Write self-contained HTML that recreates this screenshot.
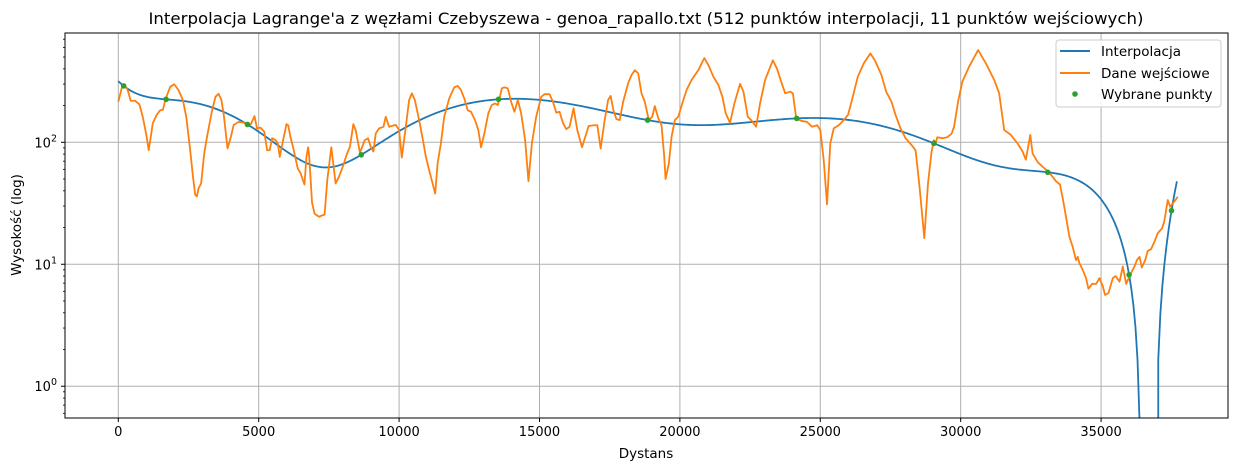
<!DOCTYPE html>
<html><head><meta charset="utf-8">
<style>
html,body{margin:0;padding:0;background:#fff;}
svg{display:block;font-family:"DejaVu Sans","Liberation Sans",sans-serif;}
</style></head>
<body>
<svg id="chart" width="1237" height="471" viewBox="0 0 1237 471" xmlns="http://www.w3.org/2000/svg">
<rect x="0" y="0" width="1237" height="471" fill="#fff"/>
<text x="646" y="24" font-size="16" text-anchor="middle" textLength="995" lengthAdjust="spacingAndGlyphs">Interpolacja Lagrange'a z węzłami Czebyszewa - genoa_rapallo.txt (512 punktów interpolacji, 11 punktów wejściowych)</text>
<text x="646" y="458" font-size="13.5" text-anchor="middle">Dystans</text>
<text x="0" y="0" font-size="13.5" text-anchor="middle" transform="translate(21,225) rotate(-90)">Wysokość (log)</text>
<g id="grid"></g>
<g id="series"></g>
<g id="axes"></g>
<g id="legend">
<rect x="1056" y="40" width="165" height="67" rx="3" fill="#fff" fill-opacity="0.85" stroke="#ccc"/>
<g><line x1="1060" y1="51" x2="1090" y2="51" stroke="#1f77b4" stroke-width="2"/><text x="1101" y="56" font-size="13.5">Interpolacja</text></g>
<g><line x1="1060" y1="73" x2="1090" y2="73" stroke="#ff7f0e" stroke-width="2"/><text x="1101" y="78" font-size="13.5">Dane wejściowe</text></g>
<g><circle cx="1075" cy="94" r="2.8" fill="#2ca02c"/><text x="1101" y="99" font-size="13.5">Wybrane punkty</text></g>
</g>
</svg>
<script>
const dataX = [0,120,215,335,440,600,750,870,990,1085,1230,1370,1490,1590,1680,1850,1990,2140,2300,2420,2560,2660,2740,2800,2860,2950,3060,3160,3330,3460,3570,3670,3750,3890,4010,4110,4290,4460,4570,4700,4850,4940,5060,5200,5300,5390,5480,5600,5680,5750,5870,5990,6050,6130,6250,6390,6490,6630,6700,6760,6800,6900,6990,7090,7160,7228,7346,7443,7586,7740,7857,8014,8132,8250,8371,8454,8607,8775,8893,8989,9086,9168,9286,9443,9525,9643,9882,10000,10096,10239,10357,10454,10561,10714,10836,10954,11071,11193,11286,11371,11489,11607,11786,11964,12086,12204,12321,12443,12561,12704,12821,12918,13036,13179,13300,13418,13514,13571,13657,13750,13871,13989,14107,14229,14346,14489,14607,14729,14882,15061,15179,15357,15479,15596,15714,15836,15954,16071,16214,16346,16514,16632,16750,16943,17061,17179,17321,17443,17536,17632,17739,17857,17979,18157,18275,18393,18514,18632,18750,18893,19014,19107,19229,19346,19443,19489,19607,19704,19821,19943,20086,20239,20418,20657,20871,21014,21193,21371,21514,21632,21786,21943,22143,22264,22418,22561,22714,22857,23036,23311,23454,23607,23750,23929,24025,24143,24321,24525,24704,24889,25000,25121,25239,25357,25479,25657,25836,25989,26157,26336,26550,26786,26964,27179,27346,27536,27679,27857,28036,28250,28393,28536,28704,28836,28964,29050,29107,29168,29346,29525,29679,29764,29918,30061,30300,30621,30893,31193,31371,31550,31786,32025,32204,32321,32479,32561,32739,32918,33157,33393,33536,33632,33750,33871,33989,34107,34168,34229,34346,34464,34550,34679,34821,34943,35061,35143,35264,35418,35514,35657,35775,35893,36036,36190,36275,36370,36450,36570,36664,36780,36900,37021,37171,37250,37375,37457,37525,37650,37730];
const dataY = [215,277,295,269,219,219,205,162,118,86,144,168,183,185,225,285,299,269,222,162,86,52,37,36,42,46,81,111,178,236,250,223,173,89,111,139,147,145,140,138,164,130,132,122,86,86,108,104,98,76,104,141,138,111,86,61,56,45,76,91,76,32,26,25,24.5,25,25.5,49,91,46,52,65,79,92,141,126,82,104,108,92,84,118,130,134,162,134,139,126,75,134,222,252,222,152,108,76,59,46,38,67,98,162,229,282,290,268,229,183,178,152,126,91,118,173,202,208,202,225,277,282,277,215,178,222,173,104,48,98,162,236,248,248,215,175,178,144,128,134,190,126,91,111,136,138,138,89,152,222,240,183,155,152,215,305,355,390,368,252,215,152,162,198,158,138,76,50,67,111,152,162,209,269,325,390,490,430,345,295,236,173,144,209,301,260,162,150,134,209,325,470,404,314,252,260,252,157,150,147,134,138,126,72,31,98,130,138,152,168,236,345,445,536,460,355,260,215,168,130,108,95,86,43,16.4,46,84,104,98,110,108,110,118,134,222,314,417,570,445,325,252,126,115,98,84,72,115,81,69,63,56.3,48,45,35,24.6,16.8,13.9,10.8,11.5,10.2,9.0,7.7,6.3,6.9,6.9,7.7,6.6,5.6,5.8,7.7,8,7.2,9.6,6.9,8.2,9.6,10.8,11.5,9.4,10.8,12.9,13.3,15.3,18,19.7,22.4,33.6,29.6,31,33.6,35.8];
const nodeX = [192,1702,4600,8654,13539,18850,24161,29046,33100,35998,37508];
const nodeY = [290,225,140,79,225,152,157,98,56.8,8.2,27.5];
const xTicks = [0,5000,10000,15000,20000,25000,30000,35000];
const xTickLabels = ["0","5000","10000","15000","20000","25000","30000","35000"];
const yMajor = [1,10,100];
const yMajorExp = ["0","1","2"];
const nInterp = 512;
const xStart = 0, xEnd = 37700;

const L=65,R=1228,T=33,B=418;
const xMin=-1898,xMax=39520;
const yLogMin=-0.2605,yLogMax=2.896;
const sx=v=>L+(v-xMin)/(xMax-xMin)*(R-L);
const sy=v=>B-(Math.log10(v)-yLogMin)/(yLogMax-yLogMin)*(B-T);
const NS="http://www.w3.org/2000/svg";
function mk(tag,attrs,parent){const e=document.createElementNS(NS,tag);for(const k in attrs)e.setAttribute(k,attrs[k]);parent.appendChild(e);return e;}
const grid=document.getElementById('grid'),series=document.getElementById('series'),axes=document.getElementById('axes');

xTicks.forEach((t,i)=>{
  const x=sx(t);
  const g=mk('line',{x1:x,y1:T,x2:x,y2:B,stroke:'#b0b0b0','stroke-width':1},grid);
  
  
  const tk=mk('line',{x1:x,y1:B,x2:x,y2:B+4,stroke:'#000','stroke-width':1},axes);
  
  
  const lb=mk('text',{x:x,y:B+18,'font-size':13,'text-anchor':'middle'},axes);
  lb.textContent=xTickLabels[i];
  
  
});
yMajor.forEach((t,i)=>{
  const y=sy(t);
  const g=mk('line',{x1:L,y1:y,x2:R,y2:y,stroke:'#b0b0b0','stroke-width':1},grid);
  
  
  const tk=mk('line',{x1:L-4,y1:y,x2:L,y2:y,stroke:'#000','stroke-width':1},axes);
  
  
  const lb=mk('text',{x:L-8,y:y+5,'font-size':13,'text-anchor':'end'},axes);
  
  
  const b=document.createElementNS(NS,'tspan');b.textContent='10';lb.appendChild(b);
  const s=document.createElementNS(NS,'tspan');s.setAttribute('dy','-6');s.setAttribute('font-size','9.5');s.textContent=yMajorExp[i];lb.appendChild(s);
});
for(let d=0.1;d<1000;d*=10){for(let m=2;m<=9;m++){const v=d*m;const y=sy(v);if(y<T||y>B)continue;
  const tk=mk('line',{x1:L-2,y1:y,x2:L,y2:y,stroke:'#000','stroke-width':0.8},axes);
  
  }}

function lag(x){let s=0;for(let i=0;i<nodeX.length;i++){let p=nodeY[i];for(let j=0;j<nodeX.length;j++)if(j!==i)p*=(x-nodeX[j])/(nodeX[i]-nodeX[j]);s+=p;}return s;}
let d='',pen=false;
for(let i=0;i<nInterp;i++){const x=xStart+(xEnd-xStart)*i/(nInterp-1);const v=lag(x);
  if(v>0){let y=sy(v);if(y>B+5)y=B+5;
    if(!pen&&i>0)d+='M'+sx(x).toFixed(2)+','+(B+5)+'L'+sx(x).toFixed(2)+','+y.toFixed(2);
    else d+=(pen?'L':'M')+sx(x).toFixed(2)+','+y.toFixed(2);
    pen=true;}
  else{if(pen){d+='L'+sx(x).toFixed(2)+','+(B+5);}pen=false;}}
const clip=mk('clipPath',{id:'pc'},series);mk('rect',{x:L,y:T,width:R-L,height:B-T},clip);
const pi=mk('path',{d:d,fill:'none',stroke:'#1f77b4','stroke-width':1.8,'clip-path':'url(#pc)'},series);


const pd=mk('path',{d:dataX.map((x,i)=>(i?'L':'M')+sx(x).toFixed(2)+','+sy(dataY[i]).toFixed(2)).join(''),fill:'none',stroke:'#ff7f0e','stroke-width':1.8,'stroke-linejoin':'round','clip-path':'url(#pc)'},series);


nodeX.forEach((x,i)=>{const c=mk('circle',{cx:sx(x),cy:sy(nodeY[i]),r:2.8,fill:'#2ca02c'},series);
  
  });
const fr=mk('rect',{x:L,y:T,width:R-L,height:B-T,fill:'none',stroke:'#000','stroke-width':1},axes);


</script>
</body></html>
